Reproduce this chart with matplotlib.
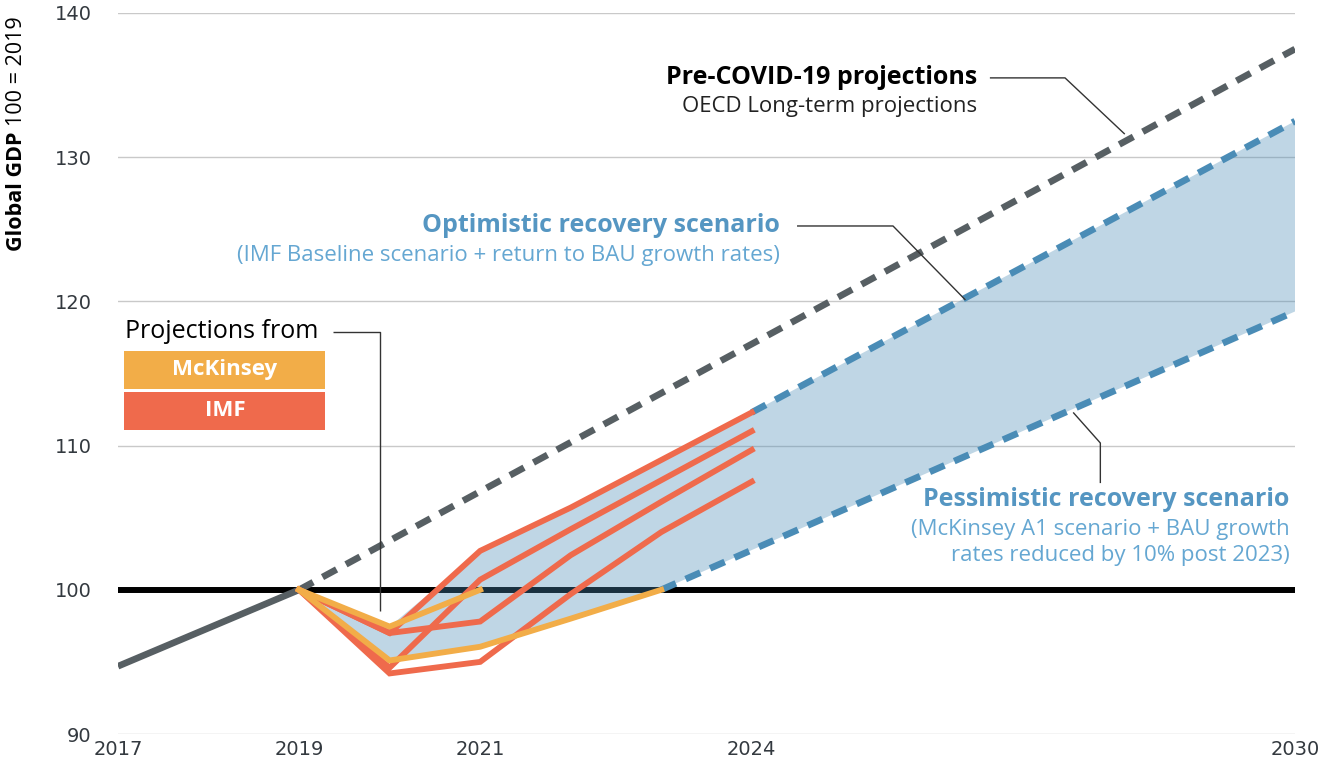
import matplotlib
matplotlib.use("Agg")
import matplotlib.pyplot as plt
import numpy as np

# historical and projected global GDP (index, 2019 = 100)
hist_years = [2017, 2018, 2019]
hist_gdp = [94.7, 97.35, 100.0]

pre_covid_years = [2019, 2030]
pre_covid_gdp = [100.0, 137.5]

imf_years = [2019, 2020, 2021, 2022, 2023, 2024]
imf_series = [
    [100.0, 97.0, 102.7, 105.7, 109.0, 112.3],
    [100.0, 94.6, 100.7, 104.2, 107.6, 111.0],
    [100.0, 97.0, 97.8, 102.4, 106.1, 109.7],
    [100.0, 94.2, 95.0, 99.7, 104.0, 107.5],
]

mck_years_a = [2019, 2020, 2021]
mck_a = [100.0, 97.45, 100.0]
mck_years_b = [2019, 2020, 2021, 2022, 2023]
mck_b = [100.0, 95.1, 96.05, 98.0, 100.0]

optimistic_years = [2024, 2030]
optimistic_gdp = [112.3, 132.5]
pessimistic_years = [2023, 2030]
pessimistic_gdp = [100.0, 119.3]

x_ticks = [2017, 2019, 2021, 2024, 2030]
y_ticks = [90, 100, 110, 120, 130, 140]

GREY = "#575f63"
BLUE = "#4a8cb6"
SHADE = "#4a8cb6"
RED = "#ef6a4c"
ORANGE = "#f2ad48"
TXT_BLUE = "#5596c2"
TXT_BLUE_LIGHT = "#65a7d2"
FONT = "Open Sans"
TITLE_SIZE = 18
SUB_SIZE = 16


def envelope():
    # upper edge: highest projection, then optimistic scenario
    top = np.max(np.array(imf_series), axis=0)
    top[: len(mck_a)] = np.maximum(top[: len(mck_a)], mck_a)
    up_x = list(imf_years) + optimistic_years[1:]
    up_y = list(top) + optimistic_gdp[1:]
    lo_x = list(mck_years_b) + pessimistic_years[1:]
    lo_y = list(mck_b) + pessimistic_gdp[1:]
    xs = up_x + lo_x[::-1]
    ys = up_y + lo_y[::-1]
    return xs, ys


def leader(ax, pts):
    xs = [p[0] for p in pts]
    ys = [p[1] for p in pts]
    ax.plot(xs, ys, color="#333333", lw=1.0, zorder=6, solid_capstyle="butt")


fig = plt.figure(figsize=(13.22, 7.67), dpi=100)
ax = fig.add_axes([118 / 1322, 1 - 734 / 767, (1295 - 118) / 1322, (734 - 13) / 767])
ax.set_xlim(2017, 2030)
ax.set_ylim(90, 140)

for s in ax.spines.values():
    s.set_visible(False)
for y in y_ticks:
    if y != 100:
        ax.axhline(y, color="#c9c9c9", lw=1.0, zorder=1)
ax.axhline(100, color="black", lw=4.3, zorder=2)

xs, ys = envelope()
ax.fill(xs, ys, color=SHADE, alpha=0.35, lw=0, zorder=3)

dash = (2.4, 1.6)
ax.plot(pre_covid_years, pre_covid_gdp, color=GREY, lw=4.8, dashes=dash, zorder=4)
ax.plot(optimistic_years, optimistic_gdp, color=BLUE, lw=4.8, dashes=dash, zorder=4)
ax.plot(pessimistic_years, pessimistic_gdp, color=BLUE, lw=4.8, dashes=dash, zorder=4)
ax.plot(hist_years, hist_gdp, color=GREY, lw=4.8, zorder=5, solid_capstyle="butt")

for s in imf_series:
    ax.plot(imf_years, s, color=RED, lw=4.2, zorder=5, solid_joinstyle="miter")
ax.plot(mck_years_a, mck_a, color=ORANGE, lw=4.2, zorder=6)
ax.plot(mck_years_b, mck_b, color=ORANGE, lw=4.2, zorder=6)

ax.set_xticks(x_ticks)
ax.set_yticks(y_ticks)
ax.tick_params(length=0, labelsize=14, labelcolor="#33393f")
ax.tick_params(axis="y", pad=19)
ax.tick_params(axis="x", pad=4)
for lab in ax.get_xticklabels() + ax.get_yticklabels():
    lab.set_family("DejaVu Sans")

# annotations
ax.text(2026.49, 135.5, "Pre-COVID-19 projections", ha="right", va="center",
        fontsize=TITLE_SIZE, fontweight="bold", family=FONT, color="black")
ax.text(2026.49, 133.55, "OECD Long-term projections", ha="right", va="center",
        fontsize=SUB_SIZE, family=FONT, color="#222222")
leader(ax, [(2026.63, 135.5), (2027.46, 135.5), (2028.12, 131.6)])

ax.text(2024.31, 125.23, "Optimistic recovery scenario", ha="right", va="center",
        fontsize=TITLE_SIZE, fontweight="bold", family=FONT, color=TXT_BLUE)
ax.text(2024.31, 123.2, "(IMF Baseline scenario + return to BAU growth rates)",
        ha="right", va="center", fontsize=SUB_SIZE, family=FONT, color=TXT_BLUE_LIGHT)
leader(ax, [(2024.5, 125.23), (2025.56, 125.23), (2026.36, 120.1)])

ax.text(2029.94, 106.23, "Pessimistic recovery scenario", ha="right", va="center",
        fontsize=TITLE_SIZE, fontweight="bold", family=FONT, color=TXT_BLUE)
ax.text(2029.94, 104.15, "(McKinsey A1 scenario + BAU growth", ha="right",
        va="center", fontsize=SUB_SIZE, family=FONT, color=TXT_BLUE_LIGHT)
ax.text(2029.94, 102.4, "rates reduced by 10% post 2023)", ha="right",
        va="center", fontsize=SUB_SIZE, family=FONT, color=TXT_BLUE_LIGHT)
leader(ax, [(2027.85, 107.4), (2027.85, 110.18), (2027.55, 112.3)])

ax.text(2017.08, 117.88, "Projections from", ha="left", va="center",
        fontsize=18, family=FONT, color="black")
leader(ax, [(2019.37, 117.88), (2019.89, 117.88), (2019.89, 98.5)])

boxes = [("McKinsey", ORANGE, 116.56, 113.93), ("IMF", RED, 113.72, 111.08)]
for name, col, y0, y1 in boxes:
    ax.add_patch(plt.Rectangle((2017.07, y1), 2.22, y0 - y1, color=col,
                               lw=0, zorder=6))
    ax.text(2017.07 + 1.11, (y0 + y1) / 2, name, ha="center", va="center",
            fontsize=16, fontweight="bold", family=FONT, color="white", zorder=7)

# y label: bold "Global GDP" then regular "100 = 2019"
t1 = fig.text(17 / 1322, 1 - 251 / 767, "Global GDP ", rotation=90,
              ha="center", va="bottom", fontsize=15.5, fontweight="bold",
              family=FONT, color="black")
fig.canvas.draw()
bb = t1.get_window_extent().transformed(fig.transFigure.inverted())
fig.text(17 / 1322, bb.y1, "100 = 2019", rotation=90, ha="center",
         va="bottom", fontsize=15.5, family=FONT, color="black")

fig.savefig("out.png", dpi=100)
